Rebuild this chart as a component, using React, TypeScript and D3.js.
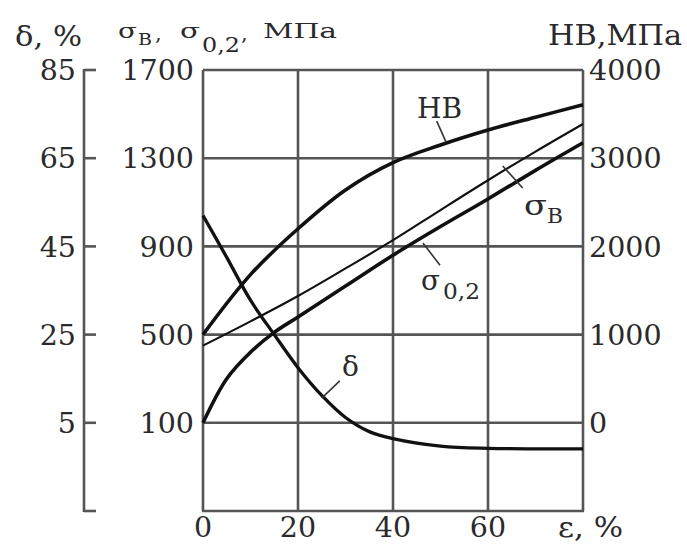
import React from 'react';
import * as d3 from 'd3';

const width = 687;
const height = 544;
const margin = { top: 70, right: 104, bottom: 33, left: 203 };

// strain ε, %
const strainTicks = [0, 20, 40, 60];
const sigmaTicks = [100, 500, 900, 1300, 1700];
const deltaTicks = [5, 25, 45, 65, 85];
const hbTicks = [0, 1000, 2000, 3000, 4000];

const hbStrain = [0, 10, 20, 30, 40, 50, 60, 70, 80];
const hbValues = [1000, 1680, 2200, 2640, 2950, 3150, 3320, 3465, 3605];

const sigmaBStrain = [0, 10, 20, 30, 40, 50, 60, 70, 80];
const sigmaBValues = [450, 560, 675, 800, 928, 1065, 1200, 1330, 1455];

const sigma02Strain = [0, 5, 10, 15, 20, 30, 40, 50, 60, 70, 80];
const sigma02Values = [100, 300, 420, 510, 580, 720, 860, 990, 1115, 1245, 1370];

const deltaStrain = [0, 5, 10, 15, 20, 25, 30, 35, 40, 50, 60, 80];
const deltaValues = [52, 42.5, 32.8, 25, 17.5, 11.2, 6.2, 3, 1.4, -0.3, -0.8, -0.9];

const font = '"DejaVu Serif", serif';
const ink = '#2a2a2a';
const gridColor = '#555';

function App() {
  const x = d3.scaleLinear().domain([0, 80]).range([margin.left, width - margin.right]);
  const yS = d3.scaleLinear().domain([-300, 1700]).range([height - margin.bottom, margin.top]);
  const yD = d3.scaleLinear().domain([-15, 85]).range([height - margin.bottom, margin.top]);
  const yH = d3.scaleLinear().domain([-1000, 4000]).range([height - margin.bottom, margin.top]);

  const x0 = x(0), x1 = x(80), yTop = yS(1700), yBot = yS(-300);

  const mk = (xs: number[], ys: number[], sc: d3.ScaleLinear<number, number>) =>
    d3.line<number>().x((d, i) => x(xs[i])).y((d) => sc(d)).curve(d3.curveCatmullRom.alpha(0.5))(ys) || '';

  const hbPath = mk(hbStrain, hbValues, yH);
  const sbPath = mk(sigmaBStrain, sigmaBValues, yS);
  const s02Path = mk(sigma02Strain, sigma02Values, yS);
  const dPath = mk(deltaStrain, deltaValues, yD);

  const deltaAxisX = 84;
  const stretch = 'spacingAndGlyphs';

  return (
    <svg width={width} height={height} style={{ position: 'absolute', left: 0, top: 0, background: '#fff' }}
      fontFamily={font} fill={ink}>
      {/* grid */}
      <g stroke={gridColor} strokeWidth={2.6} fill="none">
        {strainTicks.concat([80]).map((t) => (
          <line key={'v' + t} x1={x(t)} x2={x(t)} y1={yTop} y2={yBot} />
        ))}
        {sigmaTicks.map((t) => (
          <line key={'h' + t} x1={x0} x2={x1} y1={yS(t)} y2={yS(t)} />
        ))}
        <line x1={x0 - 1} x2={x1 + 1} y1={yBot} y2={yBot} />
        {/* δ axis */}
        <line x1={deltaAxisX} x2={deltaAxisX} y1={yD(85) - 1} y2={yD(-15) + 1} />
        {deltaTicks.concat([-15]).map((t) => (
          <line key={'d' + t} x1={deltaAxisX} x2={deltaAxisX + 12} y1={yD(t)} y2={yD(t)} />
        ))}
      </g>

      {/* curves */}
      <g fill="none" stroke="#111" strokeLinejoin="round">
        <path d={hbPath} strokeWidth={3.6} />
        <path d={sbPath} strokeWidth={2.1} />
        <path d={s02Path} strokeWidth={3.6} />
        <path d={dPath} strokeWidth={3.3} />
      </g>

      {/* leaders */}
      <g stroke="#333" strokeWidth={1.6}>
        <line x1={x(49.2)} y1={yH(3420)} x2={x(51.2)} y2={yH(3180)} />
        <line x1={x(63.1)} y1={yS(1265)} x2={x(67.3)} y2={yS(1165)} />
        <line x1={x(46.3)} y1={yS(915)} x2={x(49.9)} y2={yS(815)} />
        <line x1={x(25)} y1={yD(10.6)} x2={x(28.8)} y2={yD(14.5)} />
      </g>

      {/* tick labels */}
      <g fontSize={28.5}>
        {deltaTicks.map((t) => (
          <text key={'dt' + t} x={deltaAxisX - 8} y={yD(t)} dy="0.36em" textAnchor="end">{t}</text>
        ))}
        {sigmaTicks.map((t) => (
          <text key={'st' + t} x={x0 - 9} y={yS(t)} dy="0.36em" textAnchor="end">{t}</text>
        ))}
        {hbTicks.map((t) => (
          <text key={'ht' + t} x={x1 + 6} y={yH(t)} dy="0.36em" textAnchor="start">{t}</text>
        ))}
        {strainTicks.map((t) => (
          <text key={'xt' + t} x={x(t)} y={537} textAnchor="middle">{t}</text>
        ))}
        <text x={558} y={537} textLength={65} lengthAdjust={stretch}>ε, %</text>
      </g>

      {/* axis titles */}
      <text x={15} y={46} fontSize={27} textLength={67} lengthAdjust={stretch}>δ, %</text>
      <g fontSize={21}>
        <text x={118} y={38} textLength={19} lengthAdjust={stretch}>σ</text>
        <text x={138} y={45} fontSize={17} textLength={14} lengthAdjust={stretch}>В</text>
        <text x={155} y={40}>,</text>
        <text x={180} y={38} textLength={20} lengthAdjust={stretch}>σ</text>
        <text x={202} y={52} fontSize={20} textLength={38} lengthAdjust={stretch}>0,2</text>
        <text x={241} y={40}>,</text>
        <text x={263} y={38} textLength={74} lengthAdjust={stretch}>МПа</text>
      </g>
      <text x={548} y={45} fontSize={27} textLength={134} lengthAdjust={stretch}>HB,МПа</text>

      {/* curve labels */}
      <text x={417} y={118} fontSize={28} textLength={45} lengthAdjust={stretch}>HB</text>
      <text x={524} y={215} fontSize={28} textLength={23} lengthAdjust={stretch}>σ</text>
      <text x={547} y={223} fontSize={20} textLength={16} lengthAdjust={stretch}>В</text>
      <text x={421} y={290} fontSize={28} textLength={19} lengthAdjust={stretch}>σ</text>
      <text x={443} y={299} fontSize={22} textLength={37} lengthAdjust={stretch}>0,2</text>
      <text x={342} y={376} fontSize={28}>δ</text>
    </svg>
  );
}

export default App;
